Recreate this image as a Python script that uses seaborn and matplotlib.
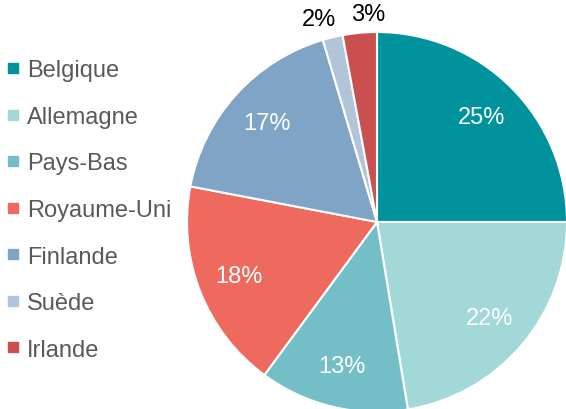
import numpy as np
import matplotlib
matplotlib.use("Agg")
import matplotlib.pyplot as plt
import seaborn as sns
from matplotlib.lines import Line2D

categories = ["Belgique", "Allemagne", "Pays-Bas", "Royaume-Uni", "Finlande", "Suède", "Irlande"]
values = [25.0, 22.4, 12.7, 17.9, 17.4, 1.7, 2.9]
colors = ["#00939e", "#a3d8d8", "#74bfc7", "#ee6a5e", "#7fa4c5", "#b1c4d8", "#c9504f"]

sns.set_theme(style="white")
plt.rcParams["font.family"] = ["Liberation Sans", "DejaVu Sans"]

fig = plt.figure(figsize=(5.66, 4.10), dpi=100)
ax = fig.add_axes([0, 0, 1, 1])

cx, cy, R = 377, 410 - 223, 190
wedges, _ = ax.pie(values, colors=colors, startangle=90, counterclock=False,
                   center=(cx, cy), radius=R,
                   wedgeprops=dict(edgecolor="white", linewidth=1.5))
ax.set_xlim(0, 566)
ax.set_ylim(0, 410)
ax.set_aspect("equal")
ax.axis("off")

total = sum(values)
small_idx = 0
for w, v in zip(wedges, values):
    ang = np.deg2rad((w.theta1 + w.theta2) / 2)
    pct = v / total * 100
    if pct < 5:
        d = 1.1
        x, y = cx + d * R * np.cos(ang), cy + d * R * np.sin(ang)
        if small_idx == 0:
            ax.annotate(f"{pct:.0f}%", (x, y), xytext=(6, 0), textcoords="offset points",
                        ha="right", va="center", color="black", fontsize=17)
        else:
            ax.annotate(f"{pct:.0f}%", (x, y), xytext=(-5, 0), textcoords="offset points",
                        ha="left", va="center", color="black", fontsize=17)
        small_idx += 1
    else:
        d = 0.78
        ax.text(cx + d * R * np.cos(ang), cy + d * R * np.sin(ang), f"{pct:.0f}%",
                ha="center", va="center", color="white", fontsize=17)

handles = [Line2D([0], [0], marker="s", linestyle="none", markersize=7,
                  markerfacecolor=c, markeredgecolor=c) for c in colors]
leg = ax.legend(handles, categories, loc="center left",
                bbox_to_anchor=(0.0, 1 - 211 / 410), frameon=False,
                fontsize=17, labelspacing=1.04, handlelength=0.6,
                handletextpad=0.3, borderaxespad=0.1, borderpad=0.15,
                labelcolor="#595959")

fig.savefig("out.png", dpi=100)
